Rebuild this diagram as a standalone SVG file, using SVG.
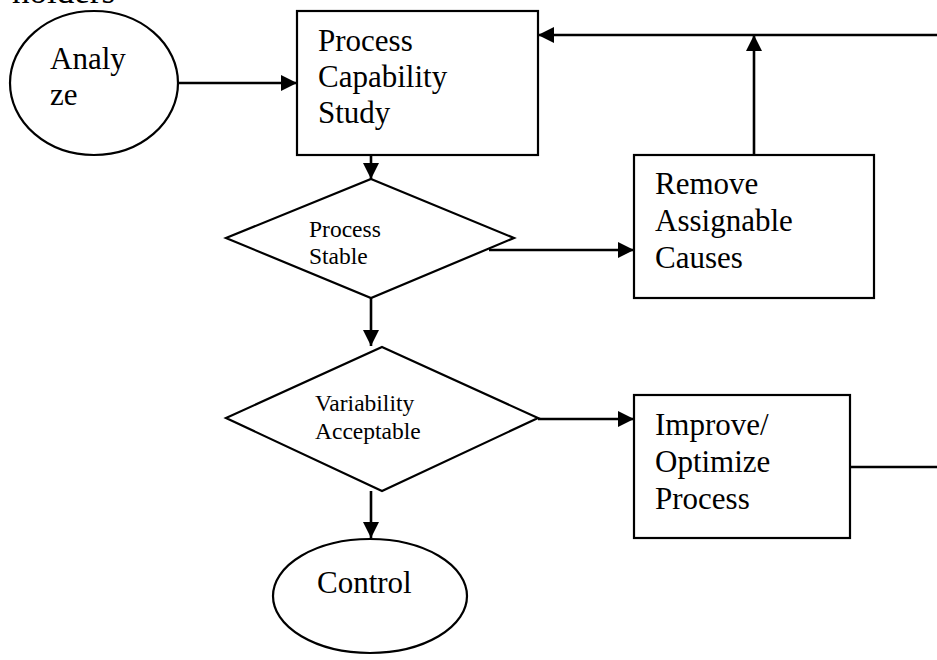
<svg xmlns="http://www.w3.org/2000/svg" width="937" height="660" viewBox="0 0 937 660">
  <style>
    .shape { fill: #ffffff; stroke: #000000; stroke-width: 2.2; }
    .edge { fill: none; stroke: #000000; stroke-width: 2.6; }
    .lbl { font-family: "Liberation Serif", "Times New Roman", serif; font-size: 31px; fill: #000000; }
    .small { font-family: "Liberation Serif", "Times New Roman", serif; font-size: 23.5px; fill: #000000; }
  </style>
  <defs>
    <marker id="arrow" markerUnits="userSpaceOnUse" markerWidth="18" markerHeight="18" refX="16" refY="8" orient="auto">
      <path d="M0,0 L16,8 L0,16 z" fill="#000000"/>
    </marker>
  </defs>
  <rect width="937" height="660" fill="#ffffff"/>

  <!-- heading line cut by the top edge -->
  <text class="lbl" x="12" y="3" style="font-size:35px">holders</text>

  <!-- connectors -->
  <g id="connectors">
    <line class="edge" x1="178" y1="83" x2="297" y2="83" marker-end="url(#arrow)"/>
    <line class="edge" x1="937" y1="35" x2="538" y2="35" marker-end="url(#arrow)"/>
    <line class="edge" x1="754" y1="155" x2="754" y2="35" marker-end="url(#arrow)"/>
    <line class="edge" x1="371" y1="155" x2="371" y2="179" marker-end="url(#arrow)"/>
    <line class="edge" x1="489" y1="250" x2="634" y2="250" marker-end="url(#arrow)"/>
    <line class="edge" x1="371" y1="298" x2="371" y2="346" marker-end="url(#arrow)"/>
    <line class="edge" x1="538" y1="419" x2="634" y2="419" marker-end="url(#arrow)"/>
    <line class="edge" x1="371" y1="491" x2="371" y2="538" marker-end="url(#arrow)"/>
    <line class="edge" x1="850" y1="467" x2="937" y2="467"/>
  </g>

  <g id="analyze">
    <ellipse class="shape" cx="94" cy="83" rx="84" ry="72"/>
    <text class="lbl" x="50" y="69">Analy</text>
    <text class="lbl" x="50" y="105">ze</text>
  </g>

  <g id="capability-study">
    <rect class="shape" x="297" y="11" width="241" height="144"/>
    <text class="lbl" x="318" y="51">Process</text>
    <text class="lbl" x="318" y="87">Capability</text>
    <text class="lbl" x="318" y="123">Study</text>
  </g>

  <g id="process-stable">
    <polygon class="shape" points="371,179 514,238 371,298 226,238"/>
    <text class="small" x="309" y="237">Process</text>
    <text class="small" x="309" y="264">Stable</text>
  </g>

  <g id="remove-causes">
    <rect class="shape" x="634" y="155" width="240" height="143"/>
    <text class="lbl" x="655" y="194">Remove</text>
    <text class="lbl" x="655" y="231">Assignable</text>
    <text class="lbl" x="655" y="268">Causes</text>
  </g>

  <g id="variability-acceptable">
    <polygon class="shape" points="382,347 538,418 382,491 226,418"/>
    <text class="small" x="315" y="411">Variability</text>
    <text class="small" x="315" y="439">Acceptable</text>
  </g>

  <g id="improve-optimize">
    <rect class="shape" x="634" y="395" width="216" height="143"/>
    <text class="lbl" x="655" y="435">Improve/</text>
    <text class="lbl" x="655" y="472">Optimize</text>
    <text class="lbl" x="655" y="509">Process</text>
  </g>

  <g id="control">
    <ellipse class="shape" cx="370" cy="596" rx="97" ry="57"/>
    <text class="lbl" x="317" y="593">Control</text>
  </g>
</svg>
